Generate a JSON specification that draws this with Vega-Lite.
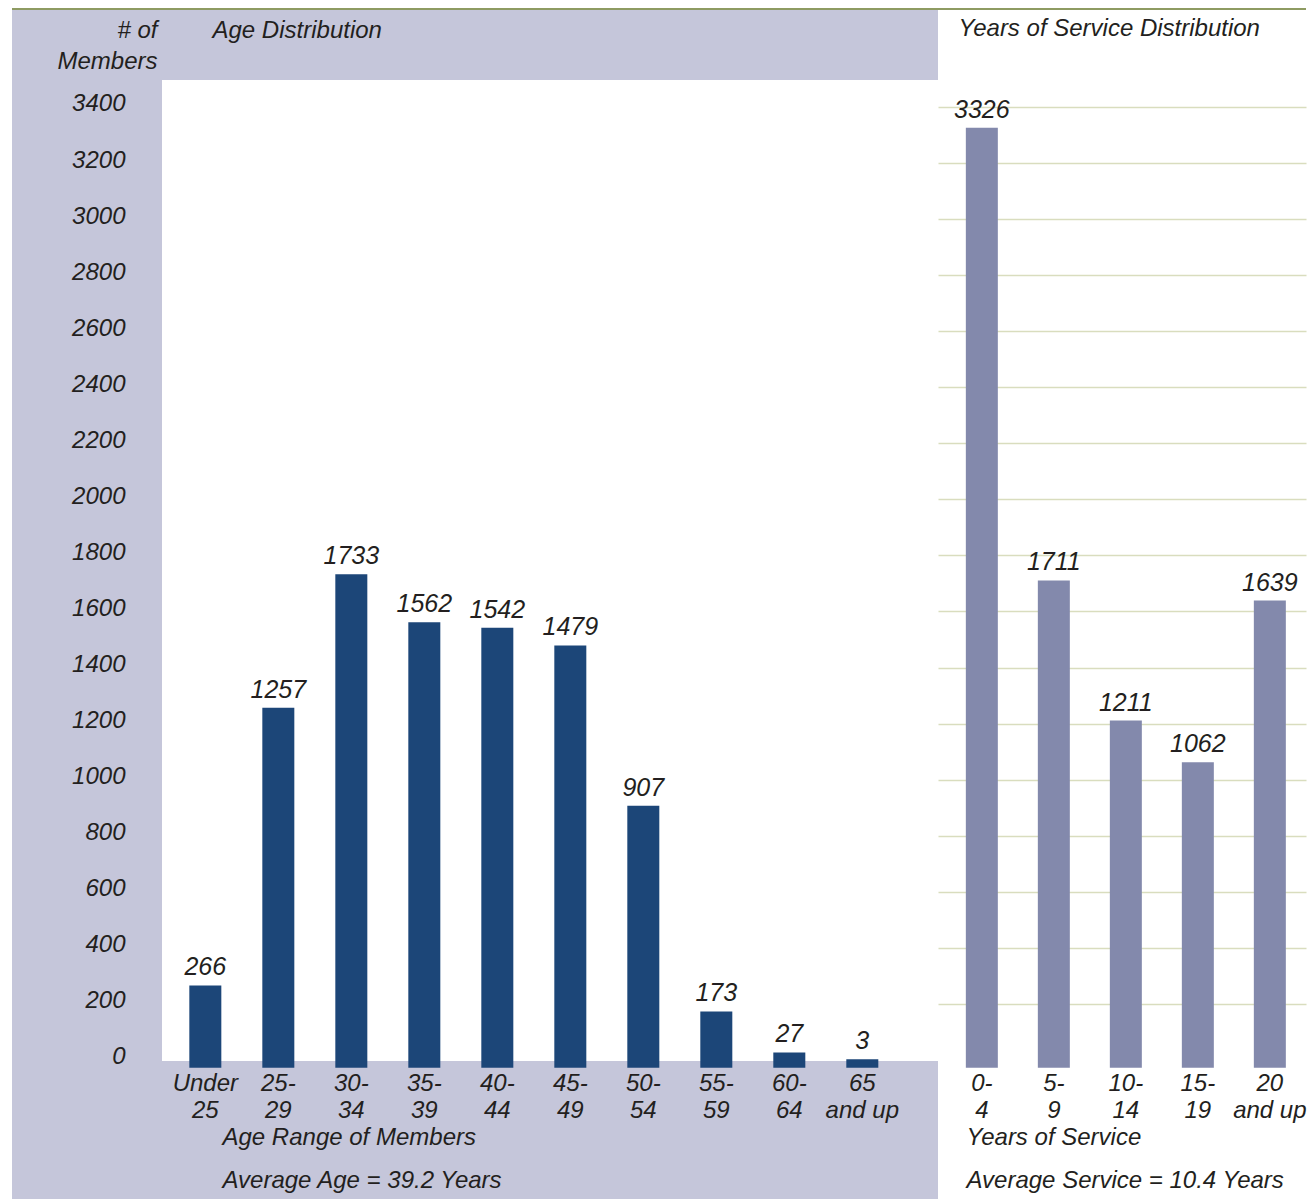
{
  "$schema": "https://vega.github.io/schema/vega-lite/v6.json",
  "background": "white",
  "padding": {"left": 12, "top": 8, "right": 10, "bottom": 0},
  "spacing": 0,
  "datasets": {
    "age": [
      {"age": "Under 25", "count": 266},
      {"age": "25-29", "count": 1257},
      {"age": "30-34", "count": 1733},
      {"age": "35-39", "count": 1562},
      {"age": "40-44", "count": 1542},
      {"age": "45-49", "count": 1479},
      {"age": "50-54", "count": 907},
      {"age": "55-59", "count": 173},
      {"age": "60-64", "count": 27},
      {"age": "65 and up", "count": 3}
    ],
    "service": [
      {"years": "0-4", "count": 3326},
      {"years": "5-9", "count": 1711},
      {"years": "10-14", "count": 1211},
      {"years": "15-19", "count": 1062},
      {"years": "20 and up", "count": 1639}
    ]
  },
  "config": {
    "font": "Liberation Sans",
    "view": {"stroke": null}
  },
  "hconcat": [
    {
      "width": 150,
      "height": 1191,
      "view": {"fill": "#C5C6DA", "stroke": null},
      "data": {"name": "age"},
      "layer": [
        {
          "mark": {"type": "rect", "color": "#8E9B62"},
          "encoding": {
            "y": {
              "datum": 3746,
              "type": "quantitative",
              "scale": {"domain": [-496, 3753], "nice": false, "zero": false},
              "axis": {
                "orient": "left",
                "offset": -150,
                "values": [0, 200, 400, 600, 800, 1000, 1200, 1400, 1600, 1800, 2000, 2200, 2400, 2600, 2800, 3000, 3200, 3400],
                "format": "d",
                "grid": false,
                "domain": false,
                "ticks": false,
                "tickSize": 0,
                "labelPadding": 37,
                "labelOffset": -3,
                "labelFontSize": 24,
                "labelFontStyle": "italic",
                "labelColor": "#231F20",
                "labelBaseline": "middle",
                "title": ["# of", "Members"],
                "titleAngle": 0,
                "titleAlign": "right",
                "titleBaseline": "top",
                "titleX": -5,
                "titleY": 10,
                "titleLineHeight": 31,
                "titleFontSize": 24,
                "titleFontStyle": "italic",
                "titleFontWeight": "normal",
                "titleColor": "#231F20"
              }
            },
            "y2": {"datum": 3753}
          }
        }
      ]
    },
    {
      "width": 776,
      "height": 1191,
      "view": {"fill": "#C5C6DA", "stroke": null},
      "data": {"name": "age"},
      "layer": [
        {
          "mark": {"type": "rect", "color": "white"},
          "encoding": {
            "y": {"datum": -4, "type": "quantitative", "scale": {"domain": [-496, 3753], "nice": false, "zero": false}},
            "y2": {"datum": 3496}
          }
        },
        {
          "mark": {"type": "rect", "color": "#8E9B62"},
          "encoding": {
            "y": {"datum": 3746, "type": "quantitative", "scale": {"domain": [-496, 3753], "nice": false, "zero": false}},
            "y2": {"datum": 3753}
          }
        },
        {
          "mark": {"type": "bar", "color": "#1C4678"},
          "encoding": {
            "x": {
              "field": "age",
              "type": "nominal",
              "sort": null,
              "scale": {"paddingInner": 0.5616, "paddingOuter": 0.596, "align": 0.314},
              "axis": {
                "orient": "bottom",
                "offset": -138,
                "labelExpr": "indexof(datum.label,'-')>0 ? [slice(datum.label,0,indexof(datum.label,'-')+1), slice(datum.label,indexof(datum.label,'-')+1)] : [slice(datum.label,0,indexof(datum.label,' ')), slice(datum.label,indexof(datum.label,' ')+1)]",
                "labelAngle": 0,
                "labelFontSize": 24,
                "labelFontStyle": "italic",
                "labelColor": "#231F20",
                "labelLineHeight": 27,
                "labelPadding": 10,
                "labelBaseline": "top",
                "labelOverlap": false,
                "labelBound": false,
                "domain": false,
                "ticks": false,
                "tickSize": 0,
                "title": ["Age Range of Members", "Average Age = 39.2 Years"],
                "titleAnchor": "start",
                "titleAlign": "left",
                "titleBaseline": "top",
                "titleX": 60,
                "titleY": 64,
                "titleLineHeight": 43,
                "titleFontSize": 24,
                "titleFontStyle": "italic",
                "titleFontWeight": "normal",
                "titleColor": "#231F20"
              }
            },
            "y": {
              "field": "count",
              "type": "quantitative",
              "scale": {"domain": [-496, 3753], "nice": false, "zero": false},
              "axis": {
                "orient": "left",
                "values": [200, 400, 600, 800, 1000, 1200, 1400, 1600, 1800, 2000, 2200, 2400, 2600, 2800, 3000, 3200, 3400],
                "grid": true,
                "gridColor": "#D9DDBE",
                "gridWidth": 1.5,
                "labels": false,
                "ticks": false,
                "tickSize": 0,
                "domain": false,
                "title": "Age Distribution",
                "titleAngle": 0,
                "titleAlign": "left",
                "titleBaseline": "top",
                "titleX": 50,
                "titleY": 10,
                "titleFontSize": 24,
                "titleFontStyle": "italic",
                "titleFontWeight": "normal",
                "titleColor": "#231F20"
              }
            },
            "y2": {"datum": -28}
          }
        },
        {
          "mark": {"type": "text", "fontSize": 25, "fontStyle": "italic", "color": "#231F20", "baseline": "alphabetic", "dy": -10},
          "encoding": {
            "x": {"field": "age", "type": "nominal", "sort": null},
            "y": {"field": "count", "type": "quantitative"},
            "text": {"field": "count", "type": "quantitative"}
          }
        }
      ]
    },
    {
      "width": 368,
      "height": 1191,
      "view": {"fill": "white", "stroke": null},
      "data": {"name": "service"},
      "layer": [
        {
          "mark": {"type": "rect", "color": "#8E9B62"},
          "encoding": {
            "y": {"datum": 3746, "type": "quantitative", "scale": {"domain": [-496, 3753], "nice": false, "zero": false}},
            "y2": {"datum": 3753}
          }
        },
        {
          "mark": {"type": "bar", "color": "#8389AC"},
          "encoding": {
            "x": {
              "field": "years",
              "type": "nominal",
              "sort": null,
              "scale": {"paddingInner": 0.5556, "paddingOuter": 0.3333, "align": 0.58},
              "axis": {
                "orient": "bottom",
                "offset": -138,
                "labelExpr": "indexof(datum.label,'-')>0 ? [slice(datum.label,0,indexof(datum.label,'-')+1), slice(datum.label,indexof(datum.label,'-')+1)] : [slice(datum.label,0,indexof(datum.label,' ')), slice(datum.label,indexof(datum.label,' ')+1)]",
                "labelAngle": 0,
                "labelFontSize": 24,
                "labelFontStyle": "italic",
                "labelColor": "#231F20",
                "labelLineHeight": 27,
                "labelPadding": 10,
                "labelBaseline": "top",
                "labelOverlap": false,
                "labelBound": false,
                "domain": false,
                "ticks": false,
                "tickSize": 0,
                "title": ["Years of Service", "Average Service = 10.4 Years"],
                "titleAnchor": "start",
                "titleAlign": "left",
                "titleBaseline": "top",
                "titleX": 28,
                "titleY": 64,
                "titleLineHeight": 43,
                "titleFontSize": 24,
                "titleFontStyle": "italic",
                "titleFontWeight": "normal",
                "titleColor": "#231F20"
              }
            },
            "y": {
              "field": "count",
              "type": "quantitative",
              "scale": {"domain": [-496, 3753], "nice": false, "zero": false},
              "axis": {
                "orient": "left",
                "values": [200, 400, 600, 800, 1000, 1200, 1400, 1600, 1800, 2000, 2200, 2400, 2600, 2800, 3000, 3200, 3400],
                "grid": true,
                "gridColor": "#D9DDBE",
                "gridWidth": 1.5,
                "labels": false,
                "ticks": false,
                "tickSize": 0,
                "domain": false,
                "title": "Years of Service Distribution",
                "titleAngle": 0,
                "titleAlign": "left",
                "titleBaseline": "top",
                "titleX": 20,
                "titleY": 8,
                "titleFontSize": 24,
                "titleFontStyle": "italic",
                "titleFontWeight": "normal",
                "titleColor": "#231F20"
              }
            },
            "y2": {"datum": -28}
          }
        },
        {
          "mark": {"type": "text", "fontSize": 25, "fontStyle": "italic", "color": "#231F20", "baseline": "alphabetic", "dy": -10},
          "encoding": {
            "x": {"field": "years", "type": "nominal", "sort": null},
            "y": {"field": "count", "type": "quantitative"},
            "text": {"field": "count", "type": "quantitative"}
          }
        }
      ]
    }
  ]
}
